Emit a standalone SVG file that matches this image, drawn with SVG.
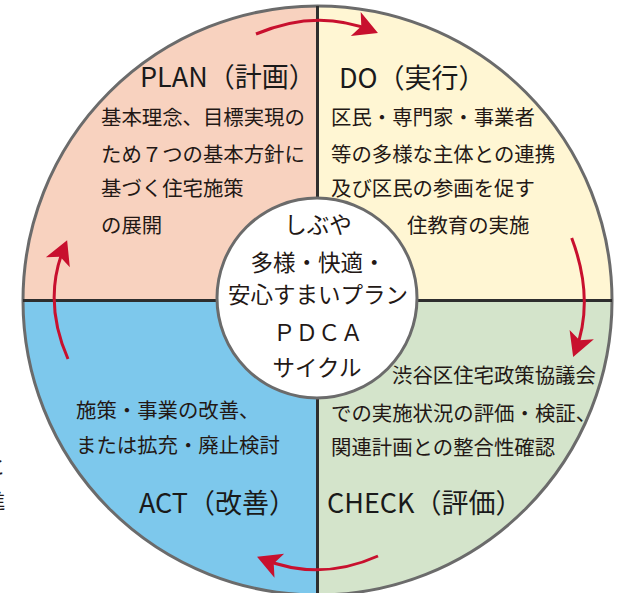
<svg xmlns="http://www.w3.org/2000/svg" width="619" height="593" viewBox="0 0 619 593">
<style>
.h{font-family:"Noto Sans CJK JP","Noto Sans",sans-serif;font-size:27px;fill:#1a1a1a}
.b{font-family:"Noto Sans CJK JP",sans-serif;font-size:20.4px;fill:#231815}
.c{font-family:"Noto Sans CJK JP",sans-serif;font-size:22.5px;fill:#231815;text-anchor:middle}
.arc{fill:none;stroke:#C8102E;stroke-width:3;marker-end:url(#ah)}
.div{stroke:#2e2e2e;stroke-width:3}
</style>
<defs>
<marker id="ah" markerUnits="userSpaceOnUse" markerWidth="24" markerHeight="26" viewBox="0 0 24 26" refX="18" refY="13" orient="auto" overflow="visible">
<path d="M24,13 L0,0 L6,13 L0,26 Z" fill="#C8102E"/>
</marker>
</defs>
<rect width="619" height="593" fill="#ffffff"/>
<text class="b" x="-15" y="474">と</text>
<text class="b" x="-15" y="509">進</text>
<g id="plan">
<path d="M317.5,300.5 L23,300.5 A294.5,294.5 0 0 1 317.5,6 Z" fill="#F8D2BF"/>
<text class="h" x="140" y="87">PLAN（計画）</text>
<text class="b" x="101" y="125">基本理念、目標実現の</text>
<text class="b" x="101" y="162">ため７つの基本方針に</text>
<text class="b" x="101" y="196">基づく住宅施策</text>
<text class="b" x="101" y="233">の展開</text>
</g>
<g id="do">
<path d="M317.5,300.5 L317.5,6 A294.5,294.5 0 0 1 612,300.5 Z" fill="#FFF6D3"/>
<text class="h" x="339" y="88">DO（実行）</text>
<text class="b" x="331" y="125">区民・専門家・事業者</text>
<text class="b" x="331" y="162">等の多様な主体との連携</text>
<text class="b" x="331" y="196">及び区民の参画を促す</text>
<text class="b" x="407" y="233">住教育の実施</text>
</g>
<g id="check">
<path d="M317.5,300.5 L612,300.5 A294.5,294.5 0 0 1 317.5,595 Z" fill="#D4E4CB"/>
<text class="h" x="327" y="513">CHECK（評価）</text>
<text class="b" x="392" y="383">渋谷区住宅政策協議会</text>
<text class="b" x="331" y="421">での実施状況の評価・検証、</text>
<text class="b" x="331" y="455">関連計画との整合性確認</text>
</g>
<g id="act">
<path d="M317.5,300.5 L317.5,595 A294.5,294.5 0 0 1 23,300.5 Z" fill="#7DC8EC"/>
<text class="h" x="139" y="513">ACT（改善）</text>
<text class="b" x="76" y="418">施策・事業の改善、</text>
<text class="b" x="76" y="453">または拡充・廃止検討</text>
</g>
<g id="frame">
<circle cx="317.5" cy="300.5" r="294.5" fill="none" stroke="#6b6b6b" stroke-width="3"/>
<line class="div" x1="317.5" y1="6" x2="317.5" y2="595"/>
<line class="div" x1="23" y1="300.5" x2="612" y2="300.5"/>
</g>
<g id="center">
<circle cx="317" cy="298" r="100" fill="#ffffff" stroke="#6b6b6b" stroke-width="3"/>
<text class="c" x="318" y="233">しぶや</text>
<text class="c" x="318" y="271">多様・快適・</text>
<text class="c" x="318" y="303">安心すまいプラン</text>
<text class="c" x="318" y="341">ＰＤＣＡ</text>
<text class="c" x="317" y="376">サイクル</text>
</g>
<g id="connectors">
<path class="arc" d="M256,34 Q317,8 372.4,30.8"/>
<path class="arc" d="M571.7,238 Q595,300 575.3,351.5"/>
<path class="arc" d="M378,556 Q320,582 262.6,559"/>
<path class="arc" d="M68,359 Q42,300 64.8,245.7"/>
</g>
</svg>
